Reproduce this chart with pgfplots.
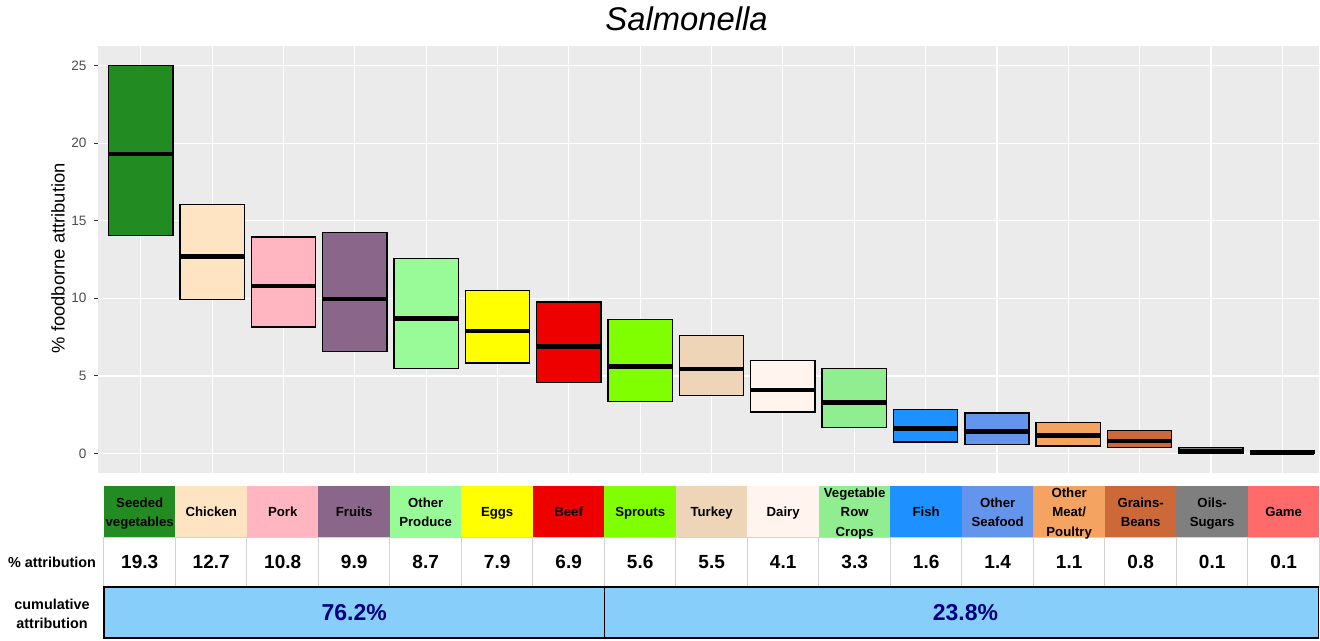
\documentclass[border=0pt]{standalone}
\usepackage{fontspec}
\setmainfont{Liberation Sans}
\usepackage{pgfplots}
\usepackage{pgfplotstable}
\pgfplotsset{compat=1.18}
\usepgfplotslibrary{statistics}

\definecolor{ggbg}{HTML}{EBEBEB}
\definecolor{ggtick}{HTML}{333333}
\definecolor{ggtext}{HTML}{4D4D4D}
\definecolor{cSeed}{HTML}{228B22}
\definecolor{cChicken}{HTML}{FFE4C4}
\definecolor{cPork}{HTML}{FFB6C1}
\definecolor{cFruits}{HTML}{8B668B}
\definecolor{cOtherProd}{HTML}{98FB98}
\definecolor{cEggs}{HTML}{FFFF00}
\definecolor{cBeef}{HTML}{EE0000}
\definecolor{cSprouts}{HTML}{7FFF00}
\definecolor{cTurkey}{HTML}{EED5B7}
\definecolor{cDairy}{HTML}{FFF5EE}
\definecolor{cVegRow}{HTML}{90EE90}
\definecolor{cFish}{HTML}{1E90FF}
\definecolor{cOtherSea}{HTML}{6495ED}
\definecolor{cOtherMeat}{HTML}{F4A460}
\definecolor{cGrains}{HTML}{CD6839}
\definecolor{cOils}{HTML}{7F7F7F}
\definecolor{cGame}{HTML}{FF6A6A}
\definecolor{cumblue}{HTML}{87CEFA}
\definecolor{navytxt}{HTML}{000080}

\pgfplotstableread{
lo    med   hi
14.04 19.3  25.00
9.92  12.7  16.05
8.14  10.8  13.95
6.56  9.95  14.23
5.49  8.7   12.56
5.83  7.9   10.50
4.59  6.9   9.75
3.34  5.6   8.64
3.75  5.45  7.61
2.68  4.1   5.98
1.67  3.3   5.49
0.73  1.6   2.85
0.60  1.4   2.60
0.49  1.15  1.99
0.37  0.8   1.48
0.03  0.17  0.37
0.00  0.07  0.17
}\boxdata

\newcommand{\catfont}{\fontsize{6.6}{9.7}\selectfont\bfseries}
\newcommand{\valfont}{\fontsize{9.5}{11}\selectfont\bfseries}
\newcommand{\rowfont}{\fontsize{7.2}{9.5}\selectfont\bfseries}
\newcommand{\cumfont}{\fontsize{11.5}{13}\selectfont\bfseries}

\newcommand{\bx}[2]{%
  \pgfplotstablegetelem{#1}{lo}\of\boxdata\let\vlo\pgfplotsretval
  \pgfplotstablegetelem{#1}{med}\of\boxdata\let\vmed\pgfplotsretval
  \pgfplotstablegetelem{#1}{hi}\of\boxdata\let\vhi\pgfplotsretval
  \edef\tmpplot{\noexpand\addplot[fill=#2, draw=black, line width=0.7pt,
    boxplot prepared={draw position=#1, box extend=0.9, whisker extend=0,
      lower whisker=\vlo, lower quartile=\vlo, median=\vmed,
      upper quartile=\vhi, upper whisker=\vhi}]
    coordinates {};}%
  \tmpplot
}

\newcommand{\cell}[4]{%
  \fill[#2] (axis cs:{-0.516+1.0021*#1},-2.07) rectangle (axis cs:{-0.516+1.0021*(#1+1)},-5.39);
  \draw[gray!35, line width=0.5pt] (axis cs:{-0.516+1.0021*#1},-5.39) rectangle (axis cs:{-0.516+1.0021*(#1+1)},-8.61);
  \node[font=\catfont, align=center, inner sep=0pt] at (axis cs:{-0.516+1.0021*(#1+0.5)},-3.87) {\vphantom{Ag}#3\vphantom{Ag}};
  \node[font=\valfont, inner sep=0pt] at (axis cs:{-0.516+1.0021*(#1+0.5)},-7.0) {#4};
}

\begin{document}
\begin{tikzpicture}
\begin{axis}[
  scale only axis, width=611pt, height=213.5pt,
  xmin=-0.6, xmax=16.52, ymin=-1.25, ymax=26.25,
  clip=false,
  boxplot/draw direction=y,
  axis background/.style={fill=ggbg},
  axis line style={draw=none},
  xtick={0,...,16}, xticklabels={},
  xtick style={draw=none},
  ytick={0,5,10,15,20,25},
  ytick pos=left,
  grid=major, major grid style={white, line width=0.6pt},
  tick align=outside, major tick length=2.2pt,
  ytick style={color=ggtick, line width=0.55pt},
  yticklabel style={font=\fontsize{6.8}{8}\selectfont, text=ggtext},
  /pgf/number format/assume math mode=true,
  boxplot/every median/.style={line width=2.3pt},
]
\bx{0}{cSeed}
\bx{1}{cChicken}
\bx{2}{cPork}
\bx{3}{cFruits}
\bx{4}{cOtherProd}
\bx{5}{cEggs}
\bx{6}{cBeef}
\bx{7}{cSprouts}
\bx{8}{cTurkey}
\bx{9}{cDairy}
\bx{10}{cVegRow}
\bx{11}{cFish}
\bx{12}{cOtherSea}
\bx{13}{cOtherMeat}
\bx{14}{cGrains}
\bx{15}{cOils}
\bx{16}{cGame}

% invisible frame of the whole picture
\path (axis cs:-1.973,-12.02) rectangle (axis cs:16.52,29.19);

\node[font=\fontsize{16.4}{18}\selectfont\itshape, anchor=base] at (axis cs:7.65,27.26) {Salmonella};
\node[rotate=90, font=\fontsize{9.2}{11}\selectfont] at (axis cs:-1.16,12.58) {\% foodborne attribution};

\cell{0}{cSeed}{Seeded\\vegetables}{19.3}
\cell{1}{cChicken}{Chicken}{12.7}
\cell{2}{cPork}{Pork}{10.8}
\cell{3}{cFruits}{Fruits}{9.9}
\cell{4}{cOtherProd}{Other\\Produce}{8.7}
\cell{5}{cEggs}{Eggs}{7.9}
\cell{6}{cBeef}{Beef}{6.9}
\cell{7}{cSprouts}{Sprouts}{5.6}
\cell{8}{cTurkey}{Turkey}{5.5}
\cell{9}{cDairy}{Dairy}{4.1}
\cell{10}{cVegRow}{Vegetable\\Row\\Crops}{3.3}
\cell{11}{cFish}{Fish}{1.6}
\cell{12}{cOtherSea}{Other\\Seafood}{1.4}
\cell{13}{cOtherMeat}{Other\\Meat/\\Poultry}{1.1}
\cell{14}{cGrains}{Grains-\\Beans}{0.8}
\cell{15}{cOils}{Oils-\\Sugars}{0.1}
\cell{16}{cGame}{Game}{0.1}

\draw[fill=cumblue, line width=0.8pt] (axis cs:-0.516,-8.61) rectangle (axis cs:{-0.516+1.0021*7},-11.90);
\draw[fill=cumblue, line width=0.8pt] (axis cs:{-0.516+1.0021*7},-8.61) rectangle (axis cs:16.505,-11.90);
\node[font=\cumfont, text=navytxt] at (axis cs:{-0.516+1.0021*3.5},-10.25) {76.2\%};
\node[font=\cumfont, text=navytxt] at (axis cs:11.559,-10.25) {23.8\%};

\node[font=\rowfont, align=center] at (axis cs:-1.244,-7.0) {\% attribution};
\node[font=\rowfont, align=center] at (axis cs:-1.244,-10.35) {cumulative\\attribution};
\end{axis}
\end{tikzpicture}
\end{document}
